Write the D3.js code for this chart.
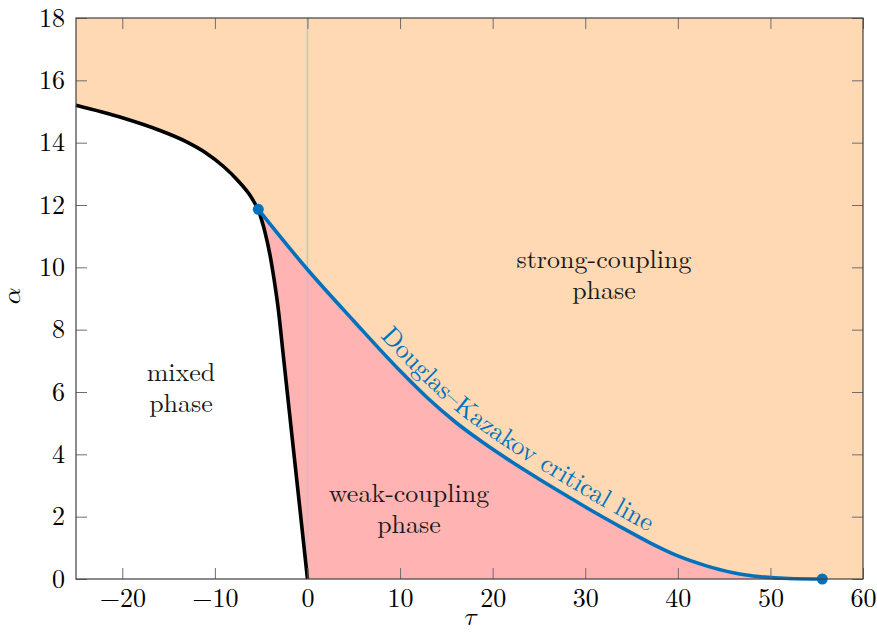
<!DOCTYPE html>
<html lang="en">
<head>
<meta charset="utf-8">
<title>Phase diagram</title>
<script src="https://cdn.jsdelivr.net/npm/d3@7"></script>
<style>
  body { margin: 0; background: #fff; }
</style>
</head>
<body>
<script>
// tick labels
var xTicks = [-20, -10, 0, 10, 20, 30, 40, 50, 60];
var yTicks = [0, 2, 4, 6, 8, 10, 12, 14, 16, 18];

// black boundary of the mixed phase, upper branch
var upperTau   = [-25, -20, -16, -13, -11, -9, -7.5, -6.3, -5.31];
var upperAlpha = [15.2, 14.8, 14.4, 14.02, 13.68, 13.22, 12.78, 12.35, 11.86];

// black boundary, steep branch down to the tau axis
var lowerTau   = [-5.31, -4.65, -4.05, -3.6, -3.17, -2.62, -1.75, -0.87, 0];
var lowerAlpha = [11.86, 11.2, 10.4, 9.6, 8.7, 7.2, 4.8, 2.4, 0];

// Douglas-Kazakov critical line
var dkTau   = [-5.31, 0, 5, 10, 13, 16, 19, 22, 25, 28, 31, 34, 37, 40, 43, 46, 49, 52, 55.6];
var dkAlpha = [11.86, 9.93, 8.28, 6.68, 5.8, 5.03, 4.37, 3.77, 3.21, 2.67, 2.14, 1.64, 1.16, 0.74, 0.43, 0.2, 0.07, 0.015, 0];

// end points marked with dots
var dotTau   = [-5.31, 55.6];
var dotAlpha = [11.86, 0];

var serif = "'Latin Modern Roman', 'Liberation Serif', serif";
var mathFont = "'Latin Modern Math', 'Latin Modern Roman', 'Liberation Serif', serif";

var w = 877, h = 639;
var mLeft = 76, mRight = 863, mTop = 18, mBottom = 579;

var svg = d3.select("body").append("svg")
    .attr("width", w)
    .attr("height", h);

var x = d3.scaleLinear().domain([-25, 60]).range([mLeft, mRight]);
var y = d3.scaleLinear().domain([0, 18]).range([mBottom, mTop]);

function pairs(ts, as) {
    return ts.map(function(t, i) { return [t, as[i]]; });
}
var upperPts = pairs(upperTau, upperAlpha);
var lowerPts = pairs(lowerTau, lowerAlpha);
var dkPts = pairs(dkTau, dkAlpha);

var line = d3.line()
    .x(function(d) { return x(d[0]); })
    .y(function(d) { return y(d[1]); })
    .curve(d3.curveMonotoneX);

var upperD = line(upperPts);
var lowerD = line(lowerPts);
var blackD = upperD + lowerD.replace(/^M/, "L");

// strong coupling background
svg.append("rect")
    .attr("x", mLeft).attr("y", mTop)
    .attr("width", mRight - mLeft).attr("height", mBottom - mTop)
    .attr("fill", "#ffd9b3");

// mixed phase (white)
svg.append("path")
    .attr("d", blackD + "L" + x(-25) + "," + y(0) + "Z")
    .attr("fill", "#fff");

// weak coupling (pink)
var weakD = lowerD +
    "L" + x(dkTau[dkTau.length - 1]) + "," + y(0) +
    line(dkPts.slice().reverse()).replace(/^M/, "L") + "Z";
svg.append("path")
    .attr("d", weakD)
    .attr("fill", "#ffb3b3");

// vertical line at tau = 0
svg.append("line")
    .attr("x1", x(0)).attr("x2", x(0))
    .attr("y1", mTop).attr("y2", mBottom)
    .attr("stroke", "#c4c4c4")
    .attr("stroke-width", 1.5);

// curves
svg.append("path")
    .attr("d", blackD)
    .attr("fill", "none")
    .attr("stroke", "#000")
    .attr("stroke-width", 3.6)
    .attr("stroke-linejoin", "round");

svg.append("path")
    .attr("id", "dkline")
    .attr("d", line(dkPts))
    .attr("fill", "none")
    .attr("stroke", "#0072bd")
    .attr("stroke-width", 3.6);

svg.selectAll("circle.dot")
    .data(dotTau)
    .enter()
    .append("circle")
    .attr("class", "dot")
    .attr("cx", function(d) { return x(d); })
    .attr("cy", function(d, i) { return y(dotAlpha[i]); })
    .attr("r", 5.5)
    .attr("fill", "#0072bd");

// label along the critical line
svg.append("text")
    .style("font-family", serif)
    .attr("font-size", 26)
    .attr("fill", "#0072bd")
    .attr("dy", -9)
    .append("textPath")
    .attr("href", "#dkline")
    .attr("startOffset", 176)
    .text("Douglas\u2013Kazakov critical line");

// axes, ticks inward on all four sides
svg.append("g")
    .attr("transform", "translate(0," + mBottom + ")")
    .call(d3.axisBottom(x).tickValues(xTicks).tickSize(-11).tickPadding(10));
svg.append("g")
    .attr("transform", "translate(" + mLeft + ",0)")
    .call(d3.axisLeft(y).tickValues(yTicks).tickSize(-11).tickPadding(11));
svg.append("g")
    .attr("transform", "translate(0," + mTop + ")")
    .call(d3.axisTop(x).tickValues(xTicks).tickSize(-11).tickFormat(""));
svg.append("g")
    .attr("transform", "translate(" + mRight + ",0)")
    .call(d3.axisRight(y).tickValues(yTicks).tickSize(-11).tickFormat(""));

svg.selectAll(".domain").remove();
svg.selectAll(".tick line").attr("stroke", "#6e6e6e").attr("stroke-width", 1);
svg.selectAll(".tick text")
    .style("font-family", serif)
    .attr("font-size", 26)
    .attr("fill", "#000");

svg.append("rect")
    .attr("x", mLeft).attr("y", mTop)
    .attr("width", mRight - mLeft).attr("height", mBottom - mTop)
    .attr("fill", "none")
    .attr("stroke", "#404040")
    .attr("stroke-width", 1.2);

// region labels
function label(lines, cx, y0) {
    var t = svg.append("text")
        .style("font-family", serif)
        .attr("text-anchor", "middle")
        .attr("font-size", 26)
        .attr("fill", "#1a1a1a");
    lines.forEach(function(s, i) {
        t.append("tspan").attr("x", cx).attr("y", y0 + i * 31).text(s);
    });
}
label(["strong-coupling", "phase"], 604, 268);
label(["mixed", "phase"], 181, 381);
label(["weak-coupling", "phase"], 409, 502);

// axis titles
svg.append("text")
    .style("font-family", mathFont)
    .attr("x", 470).attr("y", 625)
    .attr("text-anchor", "middle")
    .attr("font-size", 26)
    .text("\ud835\udf0f");
svg.append("text")
    .style("font-family", mathFont)
    .attr("transform", "translate(20,296) rotate(-90)")
    .attr("text-anchor", "middle")
    .attr("font-size", 26)
    .text("\ud835\udefc");
</script>
</body>
</html>
